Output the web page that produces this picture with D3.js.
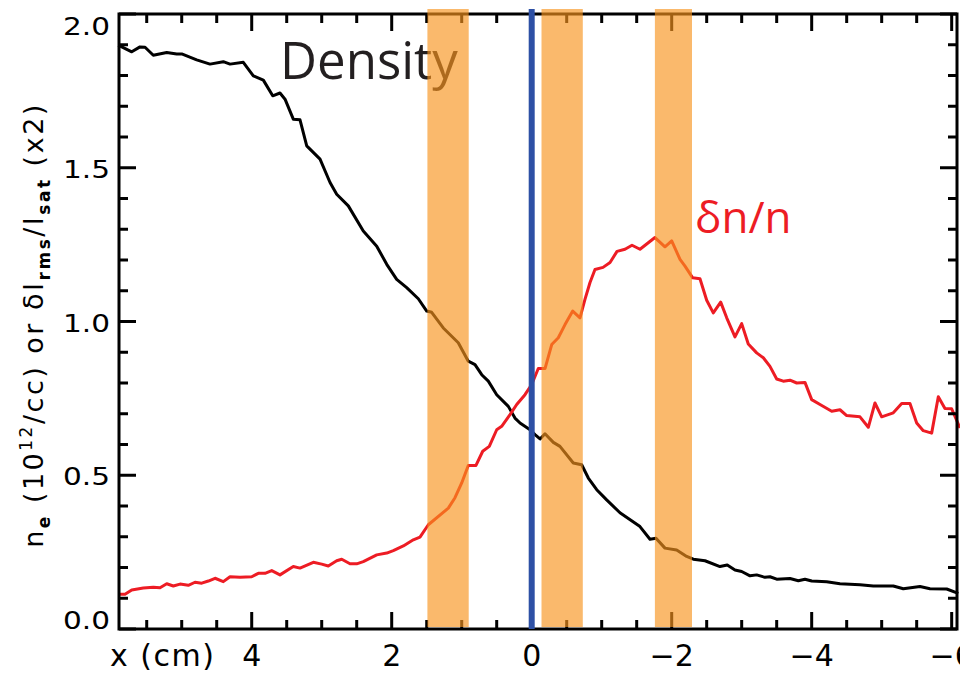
<!DOCTYPE html>
<html>
<head>
<meta charset="utf-8">
<script src="https://cdn.jsdelivr.net/npm/d3@7"></script>
<style>
  html, body { margin: 0; padding: 0; background: #fff; }
  svg { display: block; }
  text { white-space: pre; }
</style>
</head>
<body>
<svg id="profile" width="960" height="676"></svg>
<script>
// density profile (black)
var densX = [5.906, 5.714, 5.596, 5.524, 5.406, 5.214, 5.071, 5.0, 4.786, 4.596, 4.406, 4.31, 4.12, 3.977, 3.834, 3.70, 3.596, 3.524, 3.406, 3.31,
  3.214, 3.024, 2.881, 2.786, 2.62, 2.406, 2.214, 2.071, 1.929, 1.786, 1.62, 1.5, 1.429, 1.263, 1.049, 0.906, 0.81, 0.714, 0.62, 0.5,
  0.334, 0.239, 0.167, 0.024, -0.047, -0.119, -0.19, -0.309, -0.404, -0.594, -0.714, -0.809, -0.929, -1.071, -1.261, -1.547, -1.69, -1.776, -1.904, -2.071,
  -2.214, -2.309, -2.476, -2.69, -2.794, -2.904, -3.0, -3.119, -3.214, -3.333, -3.404, -3.5, -3.69, -3.809, -3.904, -4.0, -4.214, -4.404, -4.69, -4.88,
  -5.166, -5.309, -5.547, -5.69, -5.929, -6.094];
var densY = [1.899, 1.877, 1.893, 1.892, 1.866, 1.875, 1.870, 1.870, 1.851, 1.837, 1.845, 1.837, 1.843, 1.799, 1.785, 1.734, 1.743, 1.723, 1.658, 1.656,
  1.571, 1.528, 1.452, 1.414, 1.376, 1.294, 1.245, 1.186, 1.137, 1.110, 1.074, 1.034, 1.030, 0.979, 0.931, 0.871, 0.860, 0.827, 0.806, 0.762,
  0.724, 0.686, 0.670, 0.648, 0.632, 0.618, 0.635, 0.607, 0.594, 0.540, 0.534, 0.491, 0.453, 0.420, 0.378, 0.333, 0.292, 0.295, 0.263, 0.257,
  0.236, 0.227, 0.222, 0.203, 0.208, 0.192, 0.187, 0.173, 0.176, 0.168, 0.170, 0.162, 0.164, 0.157, 0.162, 0.156, 0.154, 0.147, 0.144, 0.140,
  0.140, 0.131, 0.138, 0.131, 0.130, 0.116];

// fluctuation level dn/n (red)
var flucX = [5.906, 5.81, 5.714, 5.549, 5.406, 5.31, 5.214, 5.12, 5.024, 4.906, 4.81, 4.714, 4.62, 4.524, 4.406, 4.31, 4.167, 4.0, 3.906, 3.81,
  3.714, 3.596, 3.406, 3.31, 3.12, 3.0, 2.906, 2.786, 2.714, 2.596, 2.5, 2.406, 2.214, 2.071, 1.977, 1.834, 1.691, 1.596, 1.477, 1.191,
  1.096, 1.0, 0.906, 0.796, 0.7, 0.606, 0.5, 0.429, 0.31, 0.214, 0.096, 0.0, -0.094, -0.19, -0.286, -0.38, -0.476, -0.586, -0.69, -0.761,
  -0.833, -0.904, -1.019, -1.119, -1.219, -1.333, -1.433, -1.547, -1.761, -1.904, -2.0, -2.119, -2.19, -2.3, -2.404, -2.5, -2.594, -2.7, -2.786, -2.904,
  -3.0, -3.094, -3.214, -3.309, -3.404, -3.5, -3.594, -3.69, -3.786, -3.904, -4.0, -4.119, -4.286, -4.404, -4.5, -4.69, -4.809, -4.904, -5.0, -5.166,
  -5.286, -5.404, -5.5, -5.594, -5.714, -5.809, -5.904, -6.0, -6.119];
var flucY = [0.113, 0.113, 0.127, 0.133, 0.136, 0.134, 0.147, 0.140, 0.146, 0.142, 0.152, 0.149, 0.156, 0.165, 0.154, 0.170, 0.168, 0.170, 0.181, 0.181,
  0.190, 0.176, 0.203, 0.198, 0.217, 0.211, 0.205, 0.222, 0.227, 0.212, 0.212, 0.219, 0.241, 0.247, 0.255, 0.270, 0.290, 0.299, 0.339, 0.393,
  0.427, 0.475, 0.532, 0.532, 0.578, 0.594, 0.648, 0.659, 0.697, 0.730, 0.762, 0.795, 0.847, 0.847, 0.925, 0.947, 0.990, 1.034, 1.012, 1.072,
  1.127, 1.169, 1.176, 1.192, 1.228, 1.235, 1.248, 1.235, 1.273, 1.243, 1.262, 1.202, 1.180, 1.142, 1.139, 1.069, 1.028, 1.063, 1.012, 0.950,
  0.993, 0.927, 0.898, 0.882, 0.854, 0.813, 0.806, 0.809, 0.800, 0.802, 0.746, 0.730, 0.708, 0.713, 0.694, 0.690, 0.656, 0.735, 0.690, 0.703,
  0.733, 0.733, 0.670, 0.645, 0.637, 0.755, 0.717, 0.716, 0.654];

// shaded probe regions [from, to] in cm, and the axis position
var bands = [[1.49, 0.90], [-0.14, -0.73], [-1.76, -2.29]];
var centreX = 0;

var xTicks = [4, 2, 0, -2, -4, -6];
var xTickLabels = ["4", "2", "0", "\u22122", "\u22124", "\u22126"];
var yTicks = [0, 0.5, 1, 1.5, 2];
var yTickLabels = ["0.0", "0.5", "1.0", "1.5", "2.0"];

var svg = d3.select("#profile");
var plotL = 119, plotR = 957, plotT = 14, plotB = 629;

var x = d3.scaleLinear().domain([5.896, -6.076]).range([plotL, plotR]);
var y = d3.scaleLinear().domain([0, 2]).range([plotB, plotT]);

var density = d3.zip(densX, densY);
var fluct = d3.zip(flucX, flucY);

var line = d3.line()
    .x(function(d) { return x(d[0]); })
    .y(function(d) { return y(d[1]); });

svg.append("path")
    .datum(density)
    .attr("fill", "none")
    .attr("stroke", "#000")
    .attr("stroke-width", 3)
    .attr("stroke-linejoin", "round")
    .attr("d", line);

svg.append("path")
    .datum(fluct)
    .attr("fill", "none")
    .attr("stroke", "#ed1c24")
    .attr("stroke-width", 3)
    .attr("stroke-linejoin", "round")
    .attr("d", line);

svg.append("text")
    .attr("x", 280)
    .attr("y", 79)
    .style("font-family", "'Open Sans'")
    .style("font-size", "51px")
    .attr("fill", "#231f20")
    .text("Density");

svg.append("text")
    .attr("x", 695)
    .attr("y", 233)
    .style("font-family", "'Open Sans'")
    .style("font-size", "44px")
    .attr("fill", "#ed1c24")
    .text("\u03b4n/n");

// axes: frame with inward ticks on all four sides
var minorX = d3.range(-6, 6.01, 0.5).filter(function(v) { return v % 2 !== 0; });
var minorY = d3.range(0, 2.001, 0.1).map(function(v) { return Math.round(v * 10) / 10; })
    .filter(function(v) { return yTicks.indexOf(v) < 0; });

var axes = svg.append("g")
    .attr("stroke", "#000")
    .attr("stroke-width", 3);

function tickX(vals, len) {
  vals.forEach(function(v) {
    axes.append("line").attr("x1", x(v)).attr("x2", x(v)).attr("y1", plotB).attr("y2", plotB - len);
    axes.append("line").attr("x1", x(v)).attr("x2", x(v)).attr("y1", plotT).attr("y2", plotT + len);
  });
}
function tickY(vals, len) {
  vals.forEach(function(v) {
    axes.append("line").attr("y1", y(v)).attr("y2", y(v)).attr("x1", plotL).attr("x2", plotL + len);
    axes.append("line").attr("y1", y(v)).attr("y2", y(v)).attr("x1", plotR).attr("x2", plotR - len);
  });
}
tickX(xTicks, 17);
tickX(minorX, 9);
tickY(yTicks, 17);
tickY(minorY, 9);

axes.append("rect")
    .attr("x", plotL)
    .attr("y", plotT)
    .attr("width", plotR - plotL)
    .attr("height", plotB - plotT)
    .attr("fill", "none");

// probe bands sit over the curves
svg.append("g").selectAll("rect")
    .data(bands)
  .enter().append("rect")
    .attr("x", function(d) { return x(d[0]); })
    .attr("width", function(d) { return x(d[1]) - x(d[0]); })
    .attr("y", 9)
    .attr("height", plotB - 2 - 9)
    .attr("fill", "#f7941d")
    .attr("fill-opacity", 0.65);

svg.append("line")
    .attr("x1", x(centreX))
    .attr("x2", x(centreX))
    .attr("y1", 9)
    .attr("y2", plotB)
    .attr("stroke", "#2d50a5")
    .attr("stroke-width", 6);

// tick labels
svg.append("g").selectAll("text")
    .data(xTicks)
  .enter().append("text")
    .attr("x", function(d) { return x(d); })
    .attr("y", 666)
    .attr("text-anchor", "middle")
    .style("font-family", "'DejaVu Sans'")
    .style("font-size", "30px")
    .text(function(d, i) { return xTickLabels[i]; });

svg.append("text")
    .attr("x", 110)
    .attr("y", 666)
    .style("font-family", "'DejaVu Sans'")
    .style("font-size", "30px")
    .style("letter-spacing", "1.5px")
    .text("x (cm)");

svg.append("g").selectAll("text")
    .data(yTicks)
  .enter().append("text")
    .attr("x", 110)
    .attr("y", function(d) {
      if (d === 2) return y(d) + 21;
      if (d === 0) return y(d);
      return y(d) + 10;
    })
    .attr("text-anchor", "end")
    .attr("textLength", 47)
    .attr("lengthAdjust", "spacingAndGlyphs")
    .style("font-family", "'DejaVu Sans'")
    .style("font-size", "25px")
    .text(function(d, i) { return yTickLabels[i]; });

// y title with sub/superscripts
var ylab = svg.append("text")
    .attr("transform", "translate(43,325) rotate(-90)")
    .attr("text-anchor", "middle")
    .style("font-family", "'DejaVu Sans'")
    .style("font-size", "27px")
    .style("letter-spacing", "2.5px");
ylab.append("tspan").text("n");
ylab.append("tspan").attr("dy", 7).style("font-size", "17px").style("font-weight", "bold").text("e");
ylab.append("tspan").attr("dy", -7).text(" (10");
ylab.append("tspan").attr("dy", -11).style("font-size", "17px").text("12");
ylab.append("tspan").attr("dy", 11).text("/cc) or \u03b4I");
ylab.append("tspan").attr("dy", 7).style("font-size", "17px").style("font-weight", "bold").text("rms");
ylab.append("tspan").attr("dy", -7).text("/I");
ylab.append("tspan").attr("dy", 7).style("font-size", "17px").style("font-weight", "bold").text("sat");
ylab.append("tspan").attr("dy", -7).text(" (x2)");
</script>
</body>
</html>
